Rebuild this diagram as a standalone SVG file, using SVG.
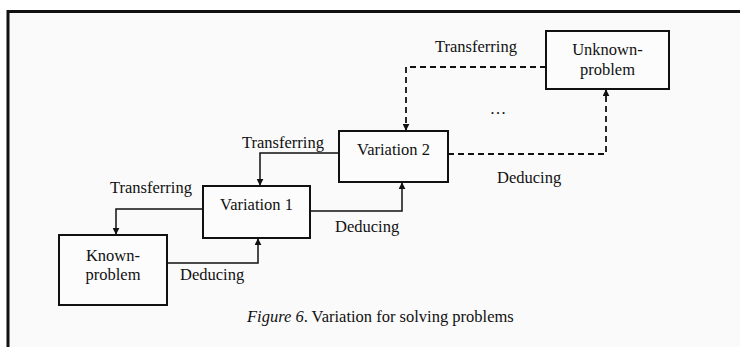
<svg xmlns="http://www.w3.org/2000/svg" width="740" height="347" viewBox="0 0 740 347">
<defs>
<style>
.t{font-family:"Liberation Serif","Times New Roman",serif;font-size:16.5px;fill:#111;}
.box{fill:#fcfcfc;stroke:#111;stroke-width:2;}
.c{fill:none;stroke:#111;stroke-width:1.5;}
.d{fill:none;stroke:#111;stroke-width:1.8;stroke-dasharray:6,4;}
</style>
<marker id="ah" viewBox="0 0 10 10" refX="9" refY="5" markerWidth="7" markerHeight="7" orient="auto" markerUnits="userSpaceOnUse"><path d="M0,0L10,5L0,10z" fill="#111"/></marker>
</defs>
<rect x="0" y="0" width="740" height="347" fill="#fff"/>
<rect x="8" y="11.5" width="800" height="400" fill="#fafafa" stroke="#111" stroke-width="3"/>
<g id="connectors">
<polyline class="c" points="203,209 116,209 116,234" marker-end="url(#ah)"/>
<polyline class="c" points="167,263 258,263 258,239" marker-end="url(#ah)"/>
<polyline class="c" points="339,153 260,153 260,185" marker-end="url(#ah)"/>
<polyline class="c" points="310,211 402,211 402,183" marker-end="url(#ah)"/>
<polyline class="d" points="546,67 406,67 406,130" marker-end="url(#ah)"/>
<polyline class="d" points="448,154 606,154 606,90" marker-end="url(#ah)"/>
</g>
<g id="known">
<rect class="box" x="59" y="235" width="108" height="70"/>
<text class="t" x="113" y="261" text-anchor="middle">Known-</text>
<text class="t" x="113" y="280" text-anchor="middle">problem</text>
</g>
<g id="variation1">
<rect class="box" x="203" y="186" width="107" height="52"/>
<text class="t" x="256.5" y="210" text-anchor="middle">Variation 1</text>
</g>
<g id="variation2">
<rect class="box" x="339" y="131" width="109" height="51"/>
<text class="t" x="393.5" y="155" text-anchor="middle">Variation 2</text>
</g>
<g id="unknown">
<rect class="box" x="546" y="31" width="123" height="58"/>
<text class="t" x="607.5" y="55" text-anchor="middle">Unknown-</text>
<text class="t" x="607.5" y="75" text-anchor="middle">problem</text>
</g>
<g id="labels">
<text class="t" x="110" y="193">Transferring</text>
<text class="t" x="180" y="280">Deducing</text>
<text class="t" x="242" y="148">Transferring</text>
<text class="t" x="335" y="232">Deducing</text>
<text class="t" x="435" y="52">Transferring</text>
<text class="t" x="497" y="183">Deducing</text>
<text class="t" x="498" y="114" text-anchor="middle" font-size="14">…</text>
<text class="t" x="247" y="322" font-size="14.4"><tspan font-style="italic">Figure 6</tspan>. Variation for solving problems</text>
</g>
</svg>
